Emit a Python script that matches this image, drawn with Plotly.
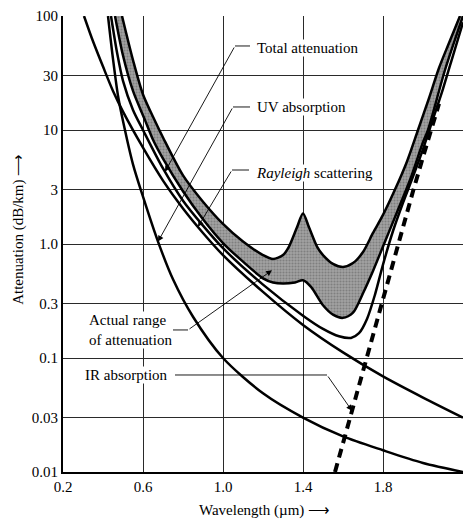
import numpy as np
import plotly.graph_objects as go

# ---------------- data ----------------
uv_wl = [0.425, 0.45, 0.475, 0.5, 0.55, 0.6, 0.675, 0.75, 0.85, 1.0, 1.2, 1.4, 1.6, 1.8, 2.0, 2.2]
uv_db = [100, 42, 20, 12, 5.0, 2.6, 1.05, 0.49, 0.23, 0.1, 0.049, 0.030, 0.0205, 0.0155, 0.012, 0.01]

ray_wl = [0.305, 0.35, 0.4, 0.45, 0.5, 0.6, 0.7, 0.8, 0.9, 1.0, 1.2, 1.4, 1.6, 1.8, 2.0, 2.2]
ray_db = [100, 60, 36, 22, 14.5, 7.0, 3.6, 2.05, 1.25, 0.8, 0.38, 0.195, 0.112, 0.069, 0.045, 0.03]

tot_wl = [0.44, 0.47, 0.5, 0.55, 0.6, 0.7, 0.8, 0.9, 1.0, 1.2, 1.4, 1.5, 1.58, 1.64, 1.68,
          1.72, 1.76, 1.8, 1.85, 1.9, 1.95, 2.0, 2.05, 2.1, 2.15, 2.2]
tot_db = [100, 48, 27, 15, 10, 4.6, 2.4, 1.45, 0.92, 0.44, 0.235, 0.18, 0.155, 0.15, 0.165,
          0.22, 0.36, 0.66, 1.3, 2.3, 3.9, 6.8, 12.5, 23, 45, 88]

ir_wl = [1.56, 1.6, 1.65, 1.7, 1.75, 1.8, 1.85, 1.9, 1.95, 2.0, 2.05, 2.08]
ir_db = [0.01, 0.018, 0.037, 0.076, 0.16, 0.33, 0.68, 1.4, 2.9, 5.8, 11.5, 17]

band_up_wl = [0.495, 0.55, 0.6, 0.66, 0.7, 0.8, 0.9, 1.0, 1.1, 1.2, 1.25, 1.3, 1.33, 1.37, 1.4,
              1.43, 1.47, 1.5, 1.55, 1.6, 1.65, 1.7, 1.75, 1.8, 1.86, 1.92, 1.975, 2.03, 2.08,
              2.13, 2.185]
band_up_db = [100, 41, 20.5, 12, 8.6, 4.0, 2.35, 1.5, 1.05, 0.8, 0.74, 0.8, 0.95, 1.4, 1.85,
              1.4, 0.95, 0.8, 0.67, 0.63, 0.68, 0.85, 1.25, 1.8, 3.0, 5.3, 10, 19, 35,
              58, 100]

band_lo_wl = [0.46, 0.5, 0.55, 0.61, 0.65, 0.7, 0.8, 0.9, 1.0, 1.1, 1.2, 1.25, 1.3, 1.36, 1.4,
              1.44, 1.5, 1.55, 1.6, 1.65, 1.7, 1.75, 1.8, 1.87, 1.935, 2.0, 2.025, 2.11, 2.2]
band_lo_db = [100, 45, 22, 12.2, 8.2, 5.6, 2.9, 1.65, 1.02, 0.7, 0.5, 0.46, 0.45, 0.46, 0.48,
              0.42, 0.29, 0.24, 0.225, 0.25, 0.37, 0.58, 0.95, 1.9, 3.64, 7.8, 10, 33.6, 100]

x_ticks = [0.2, 0.6, 1.0, 1.4, 1.8, 2.2]
x_ticktext = ["0.2", "0.6", "1.0", "1.4", "1.8", "2.2"]
y_ticks = [0.01, 0.03, 0.1, 0.3, 1, 3, 10, 30, 100]
y_ticktext = ["0.01", "0.03", "0.1", "0.3", "1.0", "3", "10", "30", "100"]

# ---------------- figure ----------------
FONT = "Liberation Serif, Times New Roman, serif"
LW = 2.5

def on_curve(wl, db, x):
    return float(np.interp(x, wl, np.log10(db)))

fig = go.Figure()

fig.add_trace(go.Scatter(x=ir_wl, y=ir_db, mode="lines",
                         line=dict(color="black", width=4, dash="9px,6px"),
                         hoverinfo="skip"))

fig.add_trace(go.Scatter(x=band_up_wl + band_lo_wl[::-1], y=band_up_db + band_lo_db[::-1],
                         mode="lines", fill="toself",
                         fillcolor="#939393",
                         fillpattern=dict(shape=".", fgcolor="#5c5c5c", bgcolor="#a2a2a2",
                                          size=3, solidity=0.4),
                         line=dict(width=0, shape="spline", smoothing=0.8),
                         hoverinfo="skip"))

for wl, db in [(band_up_wl, band_up_db), (band_lo_wl, band_lo_db),
               (ray_wl, ray_db), (tot_wl, tot_db), (uv_wl, uv_db)]:
    fig.add_trace(go.Scatter(x=wl, y=db, mode="lines",
                             line=dict(color="black", width=LW, shape="spline", smoothing=0.8),
                             hoverinfo="skip"))

annotations = []
shapes = []

def px(l):
    return (l - 0.2) / 2.0

def py(logv):
    return (logv + 2) / 4.0

# labels: (text, x_left, logy_center)
labels = [
    ("Total attenuation", 1.165, 1.719),
    ("UV absorption", 1.165, 1.202),
    ("<i>Rayleigh</i> scattering", 1.16, 0.623),
    ("Actual range<br>of attenuation", 0.325, -0.754),
    ("IR absorption", 0.305, -1.149),
]
for text, xl, ly in labels:
    annotations.append(dict(text=text, x=xl, y=ly, xref="x", yref="y", xanchor="left",
                            yanchor="middle", align="left", showarrow=False,
                            bgcolor="white", borderpad=0,
                            font=dict(family=FONT, size=15, color="black")))

# leaders: (tail_x, tail_logy, seg_start_x, head_x, head_logy)
leaders = [
    (1.06, 1.737, 1.135, 0.71, on_curve(tot_wl, tot_db, 0.71)),
    (1.05, 1.202, 1.135, 0.675, on_curve(uv_wl, uv_db, 0.675)),
    (1.045, 0.649, 1.13, 0.875, on_curve(ray_wl, ray_db, 0.875)),
    (0.825, -0.754, 0.75, 1.245, 0.5 * (on_curve(band_up_wl, band_up_db, 1.245)
                                        + on_curve(band_lo_wl, band_lo_db, 1.245))),
    (1.52, -1.149, 0.76, 1.645, on_curve(ir_wl, ir_db, 1.645)),
]
for tx, ty, sx, hx, hy in leaders:
    shapes.append(dict(type="line", xref="paper", yref="paper",
                       x0=px(sx), x1=px(tx), y0=py(ty), y1=py(ty),
                       line=dict(color="black", width=0.9)))
    annotations.append(dict(text="", x=hx, y=hy, ax=tx, ay=ty, xref="x", yref="y",
                            axref="x", ayref="y", showarrow=True, arrowhead=2,
                            arrowsize=1.3, arrowwidth=0.9, arrowcolor="black",
                            standoff=0, startstandoff=0))

annotations.append(dict(text="Attenuation (dB/km) \u27f6", x=-0.11, y=0.531, xref="paper",
                        yref="paper", textangle=-90, showarrow=False, xanchor="center",
                        yanchor="middle", font=dict(family=FONT, size=15, color="black")))
annotations.append(dict(text="Wavelength (\u00b5m) \u27f6", x=0.5025, y=-0.0855, xref="paper",
                        yref="paper", showarrow=False, xanchor="center", yanchor="middle",
                        font=dict(family=FONT, size=15, color="black")))

axis_common = dict(showgrid=True, gridcolor="#2a2a2a", gridwidth=1, showline=True,
                   linecolor="black", linewidth=2, ticks="", zeroline=False,
                   tickfont=dict(family=FONT, size=15, color="black"))

fig.update_layout(
    width=471, height=520,
    margin=dict(l=63, r=8, t=16, b=48),
    plot_bgcolor="white", paper_bgcolor="white",
    showlegend=False,
    xaxis=dict(range=[0.2, 2.2], tickvals=x_ticks, ticktext=x_ticktext, **axis_common),
    yaxis=dict(type="log", range=[-2, 2], tickvals=y_ticks, ticktext=y_ticktext,
               **axis_common),
    annotations=annotations,
    shapes=shapes,
)

fig.write_html("out.html")
